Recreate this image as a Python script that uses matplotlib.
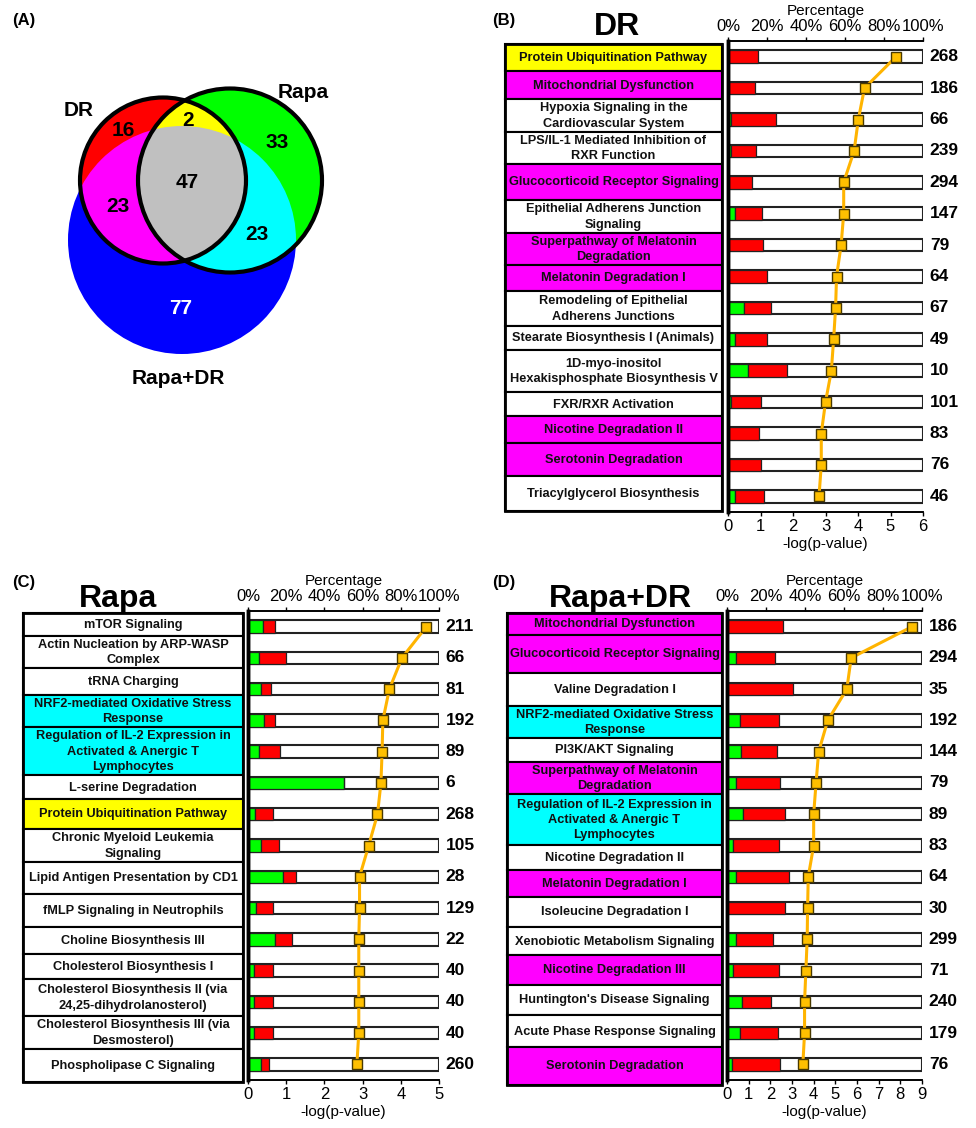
import numpy as np
import matplotlib
matplotlib.use('Agg')
import matplotlib.pyplot as plt
from matplotlib.patches import Circle, Polygon, Rectangle
from matplotlib.transforms import blended_transform_factory

plt.rcParams['font.family'] = ['Liberation Sans', 'DejaVu Sans']

#%% data
# Venn (A): number of pathways per region
venn_regions = ['DR', 'Rapa', 'DR&Rapa', 'DR&RD', 'Rapa&RD', 'all', 'RD']
venn_counts = [16, 33, 2, 23, 23, 47, 77]

# (B) DR
dr_terms = ['Protein Ubiquitination Pathway', 'Mitochondrial Dysfunction',
            'Hypoxia Signaling in the\nCardiovascular System',
            'LPS/IL-1 Mediated Inhibition of\nRXR Function',
            'Glucocorticoid Receptor Signaling',
            'Epithelial Adherens Junction\nSignaling',
            'Superpathway of Melatonin\nDegradation', 'Melatonin Degradation I',
            'Remodeling of Epithelial\nAdherens Junctions',
            'Stearate Biosynthesis I (Animals)',
            '1D-myo-inositol\nHexakisphosphate Biosynthesis V',
            'FXR/RXR Activation', 'Nicotine Degradation II',
            'Serotonin Degradation', 'Triacylglycerol Biosynthesis']
dr_group = ['DR&Rapa', 'DR&RD', 'DR', 'DR', 'DR&RD', 'DR', 'DR&RD', 'DR&RD',
            'DR', 'DR', 'DR', 'DR', 'DR&RD', 'DR&RD', 'DR']
dr_down = [0, 0, 1.5, 1.5, 0, 3.5, 0, 0, 8.4, 3.4, 10, 1.7, 0, 0, 3.4]
dr_up = [15.5, 14, 23, 13, 12.5, 14, 17.8, 19.8, 13.5, 16.4, 20, 15, 15.9, 16.8, 15.2]
dr_logp = [5.17, 4.2, 4.01, 3.88, 3.56, 3.56, 3.48, 3.34, 3.31, 3.25, 3.18,
           3.0, 2.87, 2.87, 2.8]
dr_total = [268, 186, 66, 239, 294, 147, 79, 64, 67, 49, 10, 101, 83, 76, 46]

# (C) Rapa
rapa_terms = ['mTOR Signaling', 'Actin Nucleation by ARP-WASP\nComplex',
              'tRNA Charging', 'NRF2-mediated Oxidative Stress\nResponse',
              'Regulation of IL-2 Expression in\nActivated & Anergic T\nLymphocytes',
              'L-serine Degradation', 'Protein Ubiquitination Pathway',
              'Chronic Myeloid Leukemia\nSignaling',
              'Lipid Antigen Presentation by CD1',
              'fMLP Signaling in Neutrophils', 'Choline Biosynthesis III',
              'Cholesterol Biosynthesis I',
              'Cholesterol Biosynthesis II (via\n24,25-dihydrolanosterol)',
              'Cholesterol Biosynthesis III (via\nDesmosterol)',
              'Phospholipase C Signaling']
rapa_group = ['Rapa', 'Rapa', 'Rapa', 'Rapa&RD', 'Rapa&RD', 'Rapa', 'DR&Rapa',
              'Rapa', 'Rapa', 'Rapa', 'Rapa', 'Rapa', 'Rapa', 'Rapa', 'Rapa']
rapa_down = [7.9, 5.9, 7.0, 8.2, 5.9, 50, 3.8, 6.8, 18.3, 4.0, 14.1, 3.0, 3.0, 3.0, 6.8]
rapa_up = [6.3, 14.1, 5.2, 5.9, 11, 0, 9.5, 9.3, 6.7, 9.3, 9.1, 10.3, 10.3, 10.3, 4.4]
rapa_logp = [4.67, 4.03, 3.70, 3.53, 3.51, 3.48, 3.39, 3.16, 2.92, 2.92, 2.90,
             2.90, 2.90, 2.90, 2.85]
rapa_total = [211, 66, 81, 192, 89, 6, 268, 105, 28, 129, 22, 40, 40, 40, 260]

# (D) Rapa+DR
rd_terms = ['Mitochondrial Dysfunction', 'Glucocorticoid Receptor Signaling',
            'Valine Degradation I', 'NRF2-mediated Oxidative Stress\nResponse',
            'PI3K/AKT Signaling', 'Superpathway of Melatonin\nDegradation',
            'Regulation of IL-2 Expression in\nActivated & Anergic T\nLymphocytes',
            'Nicotine Degradation II', 'Melatonin Degradation I',
            'Isoleucine Degradation I', 'Xenobiotic Metabolism Signaling',
            'Nicotine Degradation III', "Huntington's Disease Signaling",
            'Acute Phase Response Signaling', 'Serotonin Degradation']
rd_group = ['DR&RD', 'DR&RD', 'RD', 'Rapa&RD', 'RD', 'DR&RD', 'Rapa&RD', 'RD',
            'DR&RD', 'RD', 'RD', 'DR&RD', 'RD', 'RD', 'DR&RD']
rd_down = [0, 4.8, 0, 6.5, 7.4, 4.5, 8.2, 3.3, 4.5, 0, 4.5, 3.3, 7.5, 6.9, 2.4]
rd_up = [28.6, 19.9, 33.6, 20.3, 18.3, 22.9, 21.3, 23.3, 27.1, 29.7, 19.2, 23.5,
         15.1, 19, 24.9]
rd_logp = [8.54, 5.73, 5.53, 4.65, 4.23, 4.11, 4.0, 4.0, 3.75, 3.72, 3.70, 3.64,
           3.58, 3.58, 3.50]
rd_total = [186, 294, 35, 192, 144, 79, 89, 83, 64, 30, 299, 71, 240, 179, 76]

#%% style
box_colors = {'DR&Rapa': '#FFFF00', 'DR&RD': '#FF00FF', 'Rapa&RD': '#00FFFF'}
W, H = 976, 1128
fig = plt.figure(figsize=(W / 100, H / 100), dpi=100)

def px_axes(l, t, r, b):
    return fig.add_axes([l / W, 1 - b / H, (r - l) / W, (b - t) / H])

# overlay in pixel coordinates for venn, boxes and titles
ov = fig.add_axes([0, 0, 1, 1])
ov.set_xlim(0, W)
ov.set_ylim(H, 0)
ov.axis('off')
ov.patch.set_visible(False)

for lab, x, y in [('(A)', 12, 20), ('(B)', 492, 20), ('(C)', 12, 582), ('(D)', 492, 582)]:
    ov.text(x, y, lab, fontsize=12, fontweight='bold', va='center', ha='left')

#%% Venn
c_dr, r_dr = (163, 180.5), 83
c_ra, r_ra = (230, 180.5), 92
c_rd, r_rd = (182, 240), 114

def lens(c1, r1, c2, r2, n=400):
    t = np.linspace(0, 2 * np.pi, n)
    p1 = np.c_[c1[0] + r1 * np.cos(t), c1[1] + r1 * np.sin(t)]
    p2 = np.c_[c2[0] + r2 * np.cos(t), c2[1] + r2 * np.sin(t)]
    p1 = p1[np.hypot(p1[:, 0] - c2[0], p1[:, 1] - c2[1]) <= r2]
    p2 = p2[np.hypot(p2[:, 0] - c1[0], p2[:, 1] - c1[1]) <= r1]
    pts = np.vstack([p1, p2])
    m = pts.mean(axis=0)
    pts = pts[np.argsort(np.arctan2(pts[:, 1] - m[1], pts[:, 0] - m[0]))]
    return pts

td = ov.transData
rd_clip = Circle(c_rd, r_rd, transform=td)
ov.add_patch(Circle(c_rd, r_rd, fc='#0000FF', ec='none'))
ov.add_patch(Circle(c_dr, r_dr, fc='#FF0000', ec='none'))
p = Circle(c_dr, r_dr, fc='#FF00FF', ec='none')
ov.add_patch(p)
p.set_clip_path(rd_clip)
ov.add_patch(Circle(c_ra, r_ra, fc='#00FF00', ec='none'))
p = Circle(c_ra, r_ra, fc='#00FFFF', ec='none')
ov.add_patch(p)
p.set_clip_path(rd_clip)
lp = lens(c_dr, r_dr, c_ra, r_ra)
ov.add_patch(Polygon(lp, fc='#FFFF00', ec='none'))
p = Polygon(lp, fc='#C0C0C0', ec='none')
ov.add_patch(p)
p.set_clip_path(rd_clip)
ov.add_patch(Circle(c_dr, r_dr, fc='none', ec='black', lw=3))
ov.add_patch(Circle(c_ra, r_ra, fc='none', ec='black', lw=3))

venn_xy = {'DR': (123, 131), 'Rapa': (277, 143), 'DR&Rapa': (188, 120),
           'DR&RD': (118, 206), 'Rapa&RD': (257, 235), 'all': (187, 183),
           'RD': (181, 308)}
for reg, n in zip(venn_regions, venn_counts):
    ov.text(*venn_xy[reg], str(n), fontsize=15, fontweight='bold', ha='center',
            va='center', color='white' if reg == 'RD' else 'black')
ov.text(79, 111, 'DR', fontsize=15, fontweight='bold', ha='center', va='center')
ov.text(303, 93, 'Rapa', fontsize=15, fontweight='bold', ha='center', va='center')
ov.text(178, 379, 'Rapa+DR', fontsize=15, fontweight='bold', ha='center', va='center')

#%% bar panels
def panel(title, title_xy, box_x, box_edges, terms, groups, rect, down, up,
          logp, total, xmax):
    for i, (t, g) in enumerate(zip(terms, groups)):
        y0, y1 = box_edges[i], box_edges[i + 1]
        ov.add_patch(Rectangle((box_x[0], y0), box_x[1] - box_x[0], y1 - y0,
                               fc=box_colors.get(g, 'white'), ec='black', lw=1.5))
        ov.text((box_x[0] + box_x[1]) / 2, (y0 + y1) / 2 + 0.5, t, fontsize=9.2,
                fontweight='bold', ha='center', va='center', linespacing=1.35,
                color='#111111')
    ov.add_patch(Rectangle((box_x[0], box_edges[0]), box_x[1] - box_x[0],
                           box_edges[-1] - box_edges[0], fc='none', ec='black', lw=2))
    ov.text(*title_xy, title, fontsize=23, fontweight='bold', ha='center', va='center')

    ax = px_axes(*rect)
    ax2 = ax.twiny()
    rows = np.arange(len(terms))
    ax.barh(rows, 100, height=0.4, color='white', edgecolor='#222222', lw=1.5)
    ax.barh(rows, down, height=0.4, color='#00FF00', edgecolor='#222222', lw=0.9)
    ax.barh(rows, up, left=down, height=0.4, color='#FF0000', edgecolor='#222222', lw=0.9)
    ax.set_xlim(0, 100)
    ax.set_ylim(len(terms) - 0.5, -0.5)
    ax.xaxis.tick_top()
    ax.xaxis.set_label_position('top')
    ax.set_xticks([0, 20, 40, 60, 80, 100])
    ax.set_xticklabels(['0%', '20%', '40%', '60%', '80%', '100%'])
    ax.set_xlabel('Percentage', fontsize=11, labelpad=3)
    ax.set_yticks([])

    ax2.plot(logp, rows, color='#FFB400', lw=2.2, marker='s', ms=7,
             mfc='#FFC000', mec='#4a3a00', mew=1, zorder=5)
    ax2.set_xlim(0, xmax)
    ax2.xaxis.tick_bottom()
    ax2.xaxis.set_label_position('bottom')
    ax2.set_xticks(range(xmax + 1))
    ax2.set_xlabel('-log(p-value)', fontsize=11, labelpad=2)
    for a in (ax, ax2):
        a.tick_params(labelsize=12, length=3, width=1, pad=2)
        a.spines['right'].set_visible(False)
        a.spines['left'].set_linewidth(2.5)
        a.spines['top'].set_linewidth(1.2)
        a.spines['bottom'].set_linewidth(1.2)
    tr = blended_transform_factory(ax2.transAxes, ax2.transData)
    for i, n in enumerate(total):
        ax2.text(1.035, i, str(n), transform=tr, fontsize=12.5, fontweight='bold',
                 ha='left', va='center')

panel('DR', (617, 27), (505, 722),
      [44, 71, 99, 132, 164, 200, 233, 265, 291, 326, 350, 392, 416, 443, 476, 511],
      dr_terms, dr_group, (728, 41, 923, 512), dr_down, dr_up, dr_logp, dr_total, 6)
panel('Rapa', (118, 599), (23, 243),
      [613, 636, 668, 695, 727, 775, 799, 829, 862, 894, 927, 954, 979, 1016, 1049, 1082],
      rapa_terms, rapa_group, (248, 611, 439, 1080), rapa_down, rapa_up, rapa_logp,
      rapa_total, 5)
panel('Rapa+DR', (620, 599), (507, 722),
      [613, 635, 673, 706, 738, 762, 794, 845, 870, 897, 927, 955, 985, 1015, 1047, 1085],
      rd_terms, rd_group, (727, 611, 922, 1080), rd_down, rd_up, rd_logp, rd_total, 9)

fig.savefig('out.png', dpi=100)
